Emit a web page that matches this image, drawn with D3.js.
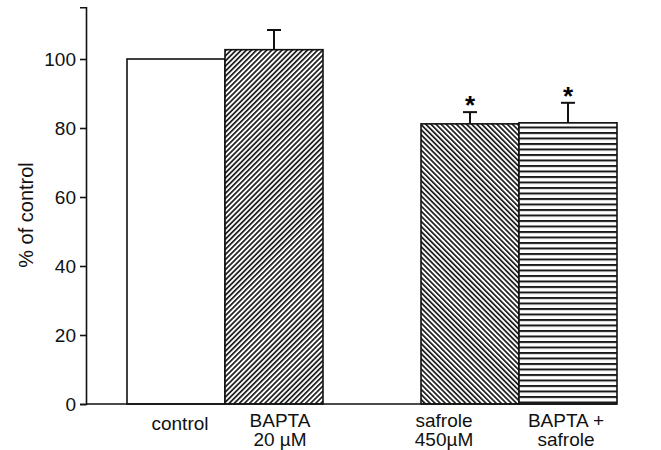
<html>
<script src="https://d3js.org/d3.v7.min.js"></script>
<body style="margin:0;background:#fff">
<svg width="661" height="450"></svg>
<script>
const categories = ["control", "BAPTA", "gap", "safrole", "BAPTA+safrole"]
const values = [100, 102.7, null, 81.2, 81.5]
const errTop = [null, 108.4, null, 84.6, 87.3]
const stars = [false, false, false, true, true]
const labelLines = [["control"], ["BAPTA", "20 \u00b5M"], [], ["safrole", "450\u00b5M"], ["BAPTA  +", "safrole"]]
const yTicks = [0, 20, 40, 60, 80, 100]

const svg = d3.select("svg")
const font = "'Liberation Sans', Arial, Helvetica, sans-serif"

// hatch patterns
const defs = svg.append("defs")
function diag(id, angle) {
  const p = defs.append("pattern").attr("id", id).attr("patternUnits", "userSpaceOnUse")
    .attr("width", 3.6).attr("height", 10).attr("patternTransform", "rotate(" + angle + ")")
  p.append("rect").attr("width", 3.6).attr("height", 10).attr("fill", "#fff")
  p.append("rect").attr("width", 1.7).attr("height", 10).attr("fill", "#1a1a1a")
}
diag("hatchR", 45)
diag("hatchL", -45)
const ph = defs.append("pattern").attr("id", "hatchH").attr("patternUnits", "userSpaceOnUse")
  .attr("width", 10).attr("height", 5.5)
ph.append("rect").attr("width", 10).attr("height", 5.5).attr("fill", "#fff")
ph.append("rect").attr("width", 10).attr("height", 2).attr("fill", "#1a1a1a")
const fills = ["#fff", "url(#hatchR)", "none", "url(#hatchL)", "url(#hatchH)"]

const x = d3.scaleBand().domain(categories).range([127, 617]).padding(0)
const y = d3.scaleLinear().domain([0, 115]).range([404, 7.25])

const data = categories.map((c, i) => ({c, v: values[i], e: errTop[i], s: stars[i], f: fills[i], l: labelLines[i]}))
  .filter(d => d.v != null)

// error bars (behind bars)
const eb = svg.append("g").attr("stroke", "#111").attr("stroke-width", 2)
data.filter(d => d.e != null).forEach(d => {
  const cx = x(d.c) + x.bandwidth() / 2
  eb.append("line").attr("x1", cx).attr("x2", cx).attr("y1", y(d.v)).attr("y2", y(d.e))
  eb.append("line").attr("x1", cx - 7).attr("x2", cx + 7).attr("y1", y(d.e)).attr("y2", y(d.e))
})

svg.append("g").selectAll("rect").data(data).enter().append("rect")
  .attr("x", d => x(d.c))
  .attr("y", d => y(d.v))
  .attr("width", x.bandwidth())
  .attr("height", d => y(0) - y(d.v))
  .attr("fill", d => d.f)
  .attr("stroke", "#111")
  .attr("stroke-width", 1.6)

// stars
svg.append("g").selectAll("text").data(data.filter(d => d.s)).enter().append("text")
  .attr("x", d => x(d.c) + x.bandwidth() / 2)
  .attr("y", d => y(d.e) + 2)
  .attr("text-anchor", "middle")
  .attr("font-family", font).attr("font-size", 26).attr("font-weight", "bold")
  .text("*")

// y axis
const yAxis = d3.axisLeft(y).tickValues(yTicks).tickSizeOuter(0).tickSize(6).tickPadding(4)
const gy = svg.append("g").attr("transform", "translate(86,0)").call(yAxis)
gy.selectAll("path,line").attr("stroke", "#111").attr("stroke-width", 1.6)
gy.selectAll("text").attr("font-family", font).attr("font-size", 19).attr("fill", "#111")

// x axis line
svg.append("line").attr("x1", 86).attr("x2", 617).attr("y1", y(0)).attr("y2", y(0))
  .attr("stroke", "#111").attr("stroke-width", 1.6)

// category labels
const dx = {"control": 4, "BAPTA": 6, "safrole": -26, "BAPTA+safrole": -2}
data.forEach(d => {
  const cx = x(d.c) + x.bandwidth() / 2 + dx[d.c]
  const t = svg.append("text").attr("text-anchor", "middle")
    .attr("font-family", font).attr("font-size", 19).attr("fill", "#111")
  if (d.l.length === 1) {
    t.attr("x", cx).attr("y", 430).text(d.l[0])
  } else {
    t.append("tspan").attr("x", cx).attr("y", 427).text(d.l[0])
    t.append("tspan").attr("x", cx).attr("y", 446).text(d.l[1])
  }
})

svg.append("text").attr("transform", "translate(33,215) rotate(-90)")
  .attr("text-anchor", "middle").attr("font-family", font).attr("font-size", 20).attr("fill", "#111")
  .text("% of control")
</script>
</body>
</html>
